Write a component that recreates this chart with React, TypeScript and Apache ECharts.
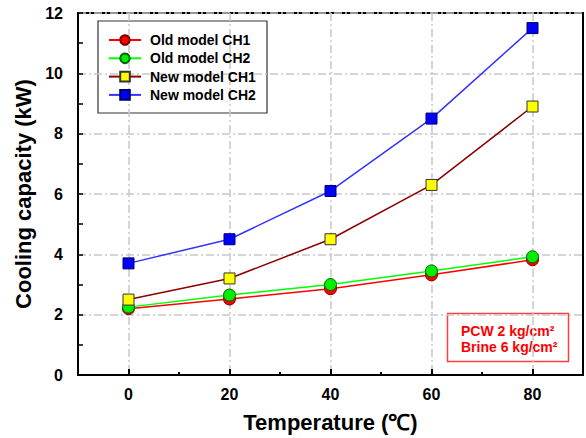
import React, { useEffect, useRef } from 'react';
import * as echarts from 'echarts';

const temperatures = [0, 20, 40, 60, 80];
const oldCH1 = [2.2, 2.52, 2.86, 3.32, 3.82];
const oldCH2 = [2.25, 2.65, 3.0, 3.45, 3.92];
const newCH1 = [2.5, 3.2, 4.5, 6.3, 8.9];
const newCH2 = [3.7, 4.5, 6.1, 8.5, 11.5];
const xMajorTicks = [0, 20, 40, 60, 80];
const xMinorTicks = [10, 30, 50, 70];
const seriesNames = ['Old model CH1', 'Old model CH2', 'New model CH1', 'New model CH2'];
const noteLines = ['PCW 2 kg/cm\u00B2', 'Brine 6 kg/cm\u00B2'];
const xTitle = 'Temperature (\u2103)';
const yTitle = 'Cooling capacity (kW)';

const FONT = "'Liberation Sans', Arial, Helvetica, sans-serif";
const GRID_LINE = { color: '#c8c8c8', width: 1.5, type: [8, 3, 2, 3] as any };

const pair = (ys: number[]) => temperatures.map((t, i) => [t, ys[i]]);

export default function App() {
  const ref = useRef<HTMLDivElement>(null);
  useEffect(() => {
    if (!ref.current) return;
    const chart = echarts.init(ref.current, null, { renderer: 'svg' });
    const mk = (
      name: string,
      ys: number[],
      symbol: string,
      size: number,
      fill: string,
      border: string,
      lineColor: string
    ) => ({
      name,
      type: 'line',
      xAxisIndex: 0,
      yAxisIndex: 0,
      data: pair(ys),
      symbol,
      symbolSize: size,
      itemStyle: { color: fill, borderColor: border, borderWidth: 1 },
      lineStyle: { color: lineColor, width: 1.5 },
    });
    chart.setOption({
      animation: false,
      backgroundColor: '#ffffff',
      textStyle: { fontFamily: FONT },
      grid: {
        left: 78,
        right: 3,
        top: 13,
        bottom: 60,
        show: true,
        borderColor: '#000',
        borderWidth: 2,
        backgroundColor: 'transparent',
      },
      xAxis: [
        {
          type: 'value',
          min: -10,
          max: 90,
          position: 'bottom',
          axisLine: { show: true, onZero: false, lineStyle: { color: '#000', width: 2 } },
          axisTick: {
            show: true,
            inside: true,
            length: 6,
            customValues: xMajorTicks,
            lineStyle: { color: '#000', width: 2 },
          },
          axisLabel: {
            customValues: xMajorTicks,
            fontSize: 16,
            fontWeight: 'bold',
            color: '#000',
            fontFamily: FONT,
            margin: 11,
          },
          splitLine: { show: true, lineStyle: GRID_LINE },
          name: xTitle,
          nameLocation: 'middle',
          nameGap: 36,
          nameTextStyle: { fontSize: 22, fontWeight: 'bold', color: '#000', fontFamily: FONT },
        },
        {
          type: 'value',
          min: -10,
          max: 90,
          position: 'bottom',
          axisLine: { show: false, onZero: false },
          axisTick: {
            show: true,
            inside: true,
            length: 3,
            customValues: xMinorTicks,
            lineStyle: { color: '#000', width: 2 },
          },
          axisLabel: { show: false },
          splitLine: { show: false },
        },
      ],
      yAxis: {
        type: 'value',
        min: 0,
        max: 12,
        interval: 2,
        axisLine: { show: true, onZero: false, lineStyle: { color: '#000', width: 2 } },
        axisTick: { show: true, inside: true, length: 5, lineStyle: { color: '#000', width: 1.5 } },
        minorTick: { show: true, splitNumber: 2, length: 5, lineStyle: { color: '#000', width: 1.5 } },
        axisLabel: {
          fontSize: 16,
          fontWeight: 'bold',
          color: '#000',
          fontFamily: FONT,
          margin: 15,
        },
        splitLine: { show: true, lineStyle: GRID_LINE },
        name: yTitle,
        nameLocation: 'middle',
        nameGap: 42,
        nameTextStyle: { fontSize: 22, fontWeight: 'bold', color: '#000', fontFamily: FONT },
      },
      legend: {
        orient: 'vertical',
        left: 108,
        top: 33,
        padding: 0,
        data: seriesNames,
        itemWidth: 32,
        itemHeight: 12,
        itemGap: 4.3,
        textStyle: {
          fontSize: 14,
          fontWeight: 'bold',
          color: '#000',
          fontFamily: FONT,
          padding: [0, 0, 0, 4],
        },
      },
      graphic: [
        {
          type: 'rect',
          z: 0,
          shape: { x: 98, y: 21, width: 169, height: 92 },
          style: { fill: '#ffffff', stroke: '#333333', lineWidth: 1.2 },
        },
        {
          type: 'group',
          children: [
            {
              type: 'rect',
              shape: { x: 447.5, y: 313.5, width: 121, height: 48 },
              style: { fill: '#ffffff', stroke: '#ff4040', lineWidth: 1.5 },
            },
            {
              type: 'text',
              x: 461,
              y: 331,
              style: {
                text: noteLines[0],
                fill: '#ff0000',
                font: `bold 14px ${FONT}`,
                verticalAlign: 'middle',
                align: 'left',
              },
            },
            {
              type: 'text',
              x: 461,
              y: 347,
              style: {
                text: noteLines[1],
                fill: '#ff0000',
                font: `bold 14px ${FONT}`,
                verticalAlign: 'middle',
                align: 'left',
              },
            },
          ],
        },
      ],
      series: [
        mk(seriesNames[0], oldCH1, 'circle', 12, '#ff0000', '#7a0000', '#ff0000'),
        mk(seriesNames[1], oldCH2, 'circle', 12, '#00ee00', '#006600', '#00ff00'),
        mk(seriesNames[2], newCH1, 'rect', 11, '#ffff00', '#333333', '#8b0000'),
        mk(seriesNames[3], newCH2, 'rect', 11, '#0000ff', '#000066', '#3333ff'),
      ],
    });
    return () => chart.dispose();
  }, []);
  return (
    <div
      ref={ref}
      style={{ position: 'fixed', left: 0, top: 0, width: 586, height: 438, background: '#fff' }}
    />
  );
}
